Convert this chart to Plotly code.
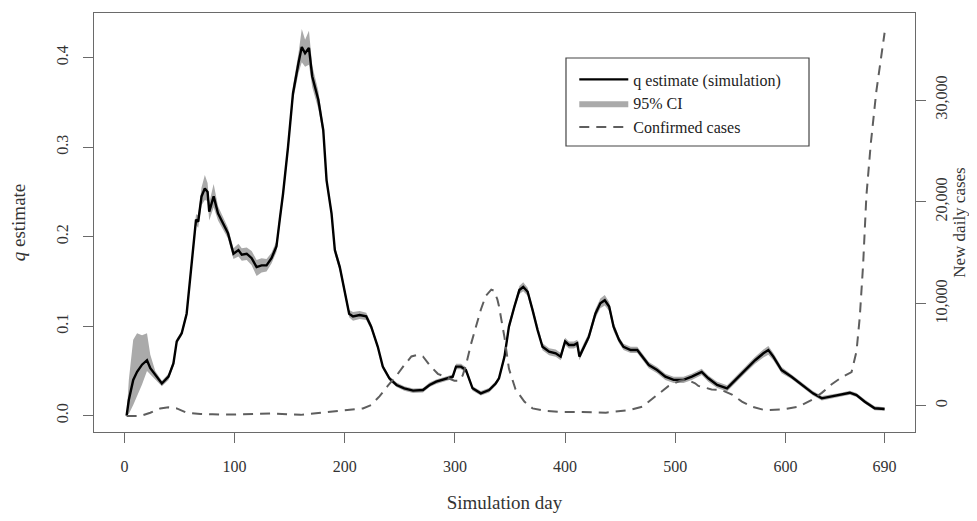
import plotly.graph_objects as go

# ---- data ----
q_days = [2, 4, 8, 11.5, 16, 20.5, 23.5, 28, 34, 40, 44.5, 47.5, 52, 56.5, 59.5, 62.5, 65, 67, 70, 73,
          75.5, 77, 81, 85, 90, 94, 99, 103.5, 106.5, 111, 115.5, 120, 124.5, 129, 133.5, 138, 141, 144,
          148.5, 153, 158, 161, 164, 167.5, 170.5, 176, 180.5, 183.5, 188, 191, 195.5, 200, 204, 207.5,
          213.5, 219.5, 224, 230, 234.5, 240.5, 247, 254, 262, 271, 277, 283, 292, 298, 301, 305.5, 310,
          313, 316, 323.5, 331, 337, 340, 345, 349, 354, 358.5, 362, 366, 370.5, 375, 379.5, 385.5, 391.5,
          396, 400, 403.5, 408, 411, 413, 417, 421.5, 427.5, 432, 436, 440, 444, 449, 453, 459.5, 465.5,
          470, 476, 483.5, 491, 498.5, 507.5, 515, 518, 524, 530, 538, 547, 554.5, 563.5, 572.5, 580,
          584.5, 589, 596.5, 605.5, 615, 625, 633, 640.5, 649.5, 658.5, 664.5, 672, 681, 690]
q_est = [0.0, 0.0175, 0.040, 0.049, 0.057, 0.062, 0.053, 0.0455, 0.036, 0.0436, 0.0585, 0.083, 0.092, 0.114,
         0.152, 0.189, 0.219, 0.217, 0.245, 0.254, 0.250, 0.228, 0.245, 0.226, 0.213, 0.204, 0.181, 0.185,
         0.180, 0.181, 0.176, 0.166, 0.168, 0.168, 0.176, 0.189, 0.219, 0.248, 0.300, 0.360, 0.394, 0.412,
         0.405, 0.411, 0.379, 0.353, 0.319, 0.263, 0.226, 0.185, 0.166, 0.137, 0.114, 0.111, 0.1125, 0.111,
         0.0995, 0.077, 0.0548, 0.0418, 0.0343, 0.0306, 0.028, 0.0287, 0.0343, 0.038, 0.0418, 0.0436,
         0.0548, 0.0548, 0.051, 0.040, 0.0306, 0.025, 0.0287, 0.036, 0.0418, 0.066, 0.0995, 0.122, 0.1404,
         0.144, 0.1385, 0.118, 0.0957, 0.077, 0.0715, 0.0697, 0.066, 0.083, 0.079, 0.079, 0.081, 0.066,
         0.077, 0.088, 0.114, 0.1256, 0.129, 0.122, 0.0995, 0.0846, 0.077, 0.0734, 0.0734, 0.066, 0.0566,
         0.051, 0.0436, 0.040, 0.040, 0.0436, 0.0455, 0.049, 0.0418, 0.0343, 0.0306, 0.040, 0.051, 0.062,
         0.0697, 0.0734, 0.066, 0.051, 0.0436, 0.0343, 0.025, 0.0194, 0.0212, 0.0231, 0.0257, 0.0231,
         0.0156, 0.0083, 0.0075]
ci_low = [0.0, 0.002, 0.012, 0.022, 0.035, 0.050, 0.046, 0.041, 0.033, 0.040, 0.055, 0.080, 0.089, 0.110,
          0.147, 0.184, 0.213, 0.210, 0.235, 0.241, 0.240, 0.218, 0.233, 0.218, 0.206, 0.198, 0.175, 0.178,
          0.173, 0.174, 0.168, 0.156, 0.160, 0.161, 0.170, 0.183, 0.213, 0.242, 0.293, 0.352, 0.383, 0.395,
          0.390, 0.392, 0.367, 0.343, 0.313, 0.258, 0.221, 0.180, 0.161, 0.132, 0.110, 0.106, 0.108, 0.107,
          0.096, 0.0745, 0.052, 0.039, 0.032, 0.028, 0.0255, 0.026, 0.032, 0.0355, 0.039, 0.041, 0.052,
          0.052, 0.048, 0.0375, 0.028, 0.0225, 0.026, 0.0335, 0.039, 0.062, 0.095, 0.118, 0.136, 0.139,
          0.134, 0.114, 0.092, 0.073, 0.0675, 0.066, 0.062, 0.079, 0.075, 0.075, 0.077, 0.062, 0.073, 0.084,
          0.109, 0.120, 0.123, 0.117, 0.0945, 0.081, 0.0735, 0.070, 0.070, 0.0625, 0.053, 0.0475, 0.040,
          0.0365, 0.0365, 0.040, 0.042, 0.0455, 0.038, 0.031, 0.027, 0.0365, 0.0475, 0.058, 0.065, 0.068,
          0.062, 0.0475, 0.041, 0.032, 0.0225, 0.017, 0.019, 0.021, 0.0235, 0.021, 0.0135, 0.006, 0.0055]
ci_high = [0.0, 0.040, 0.085, 0.092, 0.090, 0.092, 0.068, 0.050, 0.039, 0.047, 0.062, 0.086, 0.095, 0.118,
           0.157, 0.194, 0.225, 0.224, 0.255, 0.269, 0.260, 0.238, 0.259, 0.234, 0.220, 0.210, 0.187, 0.192,
           0.187, 0.188, 0.184, 0.174, 0.176, 0.175, 0.182, 0.195, 0.225, 0.254, 0.307, 0.368, 0.405, 0.432,
           0.420, 0.430, 0.391, 0.363, 0.325, 0.268, 0.231, 0.190, 0.171, 0.142, 0.118, 0.116, 0.117, 0.115,
           0.103, 0.0795, 0.057, 0.044, 0.037, 0.033, 0.0305, 0.031, 0.037, 0.0405, 0.044, 0.046, 0.058,
           0.058, 0.054, 0.0425, 0.033, 0.0275, 0.031, 0.0385, 0.044, 0.070, 0.104, 0.126, 0.145, 0.149,
           0.143, 0.122, 0.100, 0.081, 0.0755, 0.074, 0.070, 0.087, 0.083, 0.083, 0.085, 0.070, 0.081, 0.092,
           0.119, 0.131, 0.135, 0.127, 0.1045, 0.088, 0.0805, 0.077, 0.077, 0.0695, 0.060, 0.0545, 0.047,
           0.0435, 0.0435, 0.047, 0.049, 0.0525, 0.045, 0.038, 0.034, 0.0435, 0.0545, 0.066, 0.074, 0.078,
           0.070, 0.0545, 0.046, 0.037, 0.0275, 0.022, 0.0235, 0.0255, 0.028, 0.0255, 0.018, 0.0105, 0.0095]

case_days = [2, 14.5, 23.5, 32.5, 40, 47.5, 56.5, 69, 80, 100, 120, 135, 160, 189, 216.5, 224, 231.5, 239,
             247, 254, 260.5, 266.5, 271, 277, 284.5, 292, 299.5, 304, 307, 310, 314.5, 319, 323.5, 328,
             333, 335.5, 338.5, 340, 345, 349, 355, 363, 370.5, 382.5, 397.5, 415.5, 437, 458, 470, 482,
             494, 504.5, 510.5, 518, 521, 533, 542, 551.5, 560.5, 569.5, 581.5, 596.5, 612, 624, 633, 642,
             651, 660, 664.5, 667.5, 670.5, 673.5, 677.5, 682.5, 687, 690]
new_cases = [-1010, -1010, -690, -265, -160, -265, -690, -815, -850, -870, -800, -760, -900, -610, -265, 70,
             920, 1940, 2960, 3980, 4830, 5000, 4830, 3980, 3130, 2790, 2450, 2450, 2960, 3980, 6010, 7720,
             9420, 10780, 11390, 11290, 10440, 9760, 6700, 3640, 1600, 410, -265, -510, -610, -610, -680,
             -440, -100, 920, 1940, 2450, 2550, 2200, 1940, 1600, 1530, 1090, 410, -100, -440, -370, -100,
             580, 1260, 2110, 2790, 3300, 5340, 8730, 13830, 20630, 25750, 30850, 34240, 36600]

x_ticks = [0, 100, 200, 300, 400, 500, 600, 690]
q_ticks = [0.0, 0.1, 0.2, 0.3, 0.4]
q_tick_labels = ["0.0", "0.1", "0.2", "0.3", "0.4"]
case_ticks = [0, 10000, 20000, 30000]
case_tick_labels = ["0", "10,000", "20,000", "30,000"]

FONT = "Liberation Serif"
AX = "#6a6a6a"
TXT = "#333333"

fig = go.Figure()
fig.add_trace(go.Scatter(x=q_days, y=ci_low, mode="lines", line=dict(width=0, color="#aaaaaa"),
                         showlegend=False, hoverinfo="skip"))
fig.add_trace(go.Scatter(x=q_days, y=ci_high, mode="lines", line=dict(width=0, color="#aaaaaa"),
                         fill="tonexty", fillcolor="#aaaaaa", name="95% CI", legendrank=2))
fig.add_trace(go.Scatter(x=q_days, y=q_est, mode="lines", line=dict(color="#000000", width=2.4),
                         name="q estimate (simulation)", legendrank=1))
fig.add_trace(go.Scatter(x=case_days, y=new_cases, mode="lines", yaxis="y2",
                         line=dict(color="#5e5e5e", width=2, dash="10px,7px"),
                         name="Confirmed cases", legendrank=3))

# the page body adds an 8px margin, so the figure is 16px smaller than the window
fig.update_layout(
    width=961, height=505,
    margin=dict(l=86, r=54, t=5, b=81, autoexpand=False),
    paper_bgcolor="white", plot_bgcolor="white",
    font=dict(family=FONT, size=16, color=TXT),
    xaxis=dict(range=[-27.6, 717.6], tickvals=x_ticks, ticks="outside", ticklen=10, tickcolor=AX,
               showline=True, linecolor=AX, mirror=True, showgrid=False, zeroline=False,
               automargin=False, tickfont=dict(size=16, color=TXT), ticklabelstandoff=10,
               title=dict(text="Simulation day", font=dict(size=19, color=TXT), standoff=32)),
    yaxis=dict(range=[-0.01821, 0.44994], tickvals=q_ticks, ticktext=q_tick_labels, tickangle=-90,
               ticks="outside", ticklen=10, tickcolor=AX, showline=True, linecolor=AX, mirror=True,
               showgrid=False, zeroline=False, automargin=False, tickfont=dict(size=16, color=TXT),
               ticklabelstandoff=9,
               title=dict(text="<i>q</i> estimate", font=dict(size=19, color=TXT), standoff=29)),
    yaxis2=dict(range=[-2581, 38538], tickvals=case_ticks, ticktext=case_tick_labels, tickangle=-90,
                overlaying="y", side="right", ticks="outside", ticklen=10, tickcolor=AX,
                showline=False, showgrid=False, zeroline=False, automargin=False,
                tickfont=dict(size=16, color=TXT), ticklabelstandoff=2,
                title=dict(text="New daily cases", font=dict(size=17, color=TXT), standoff=19)),
    legend=dict(x=0.585, y=0.882, xanchor="left", yanchor="top", bgcolor="rgba(0,0,0,0)",
                borderwidth=0, font=dict(size=16, color="#222222"), tracegroupgap=0,
                traceorder="normal", itemwidth=49),
    shapes=[dict(type="rect", xref="paper", yref="paper", x0=0.5749, x1=0.8709, y0=0.6826, y1=0.8926,
                 line=dict(color="#444444", width=1.2), fillcolor="rgba(0,0,0,0)")],
    showlegend=True,
)

fig.write_html("out.html")
